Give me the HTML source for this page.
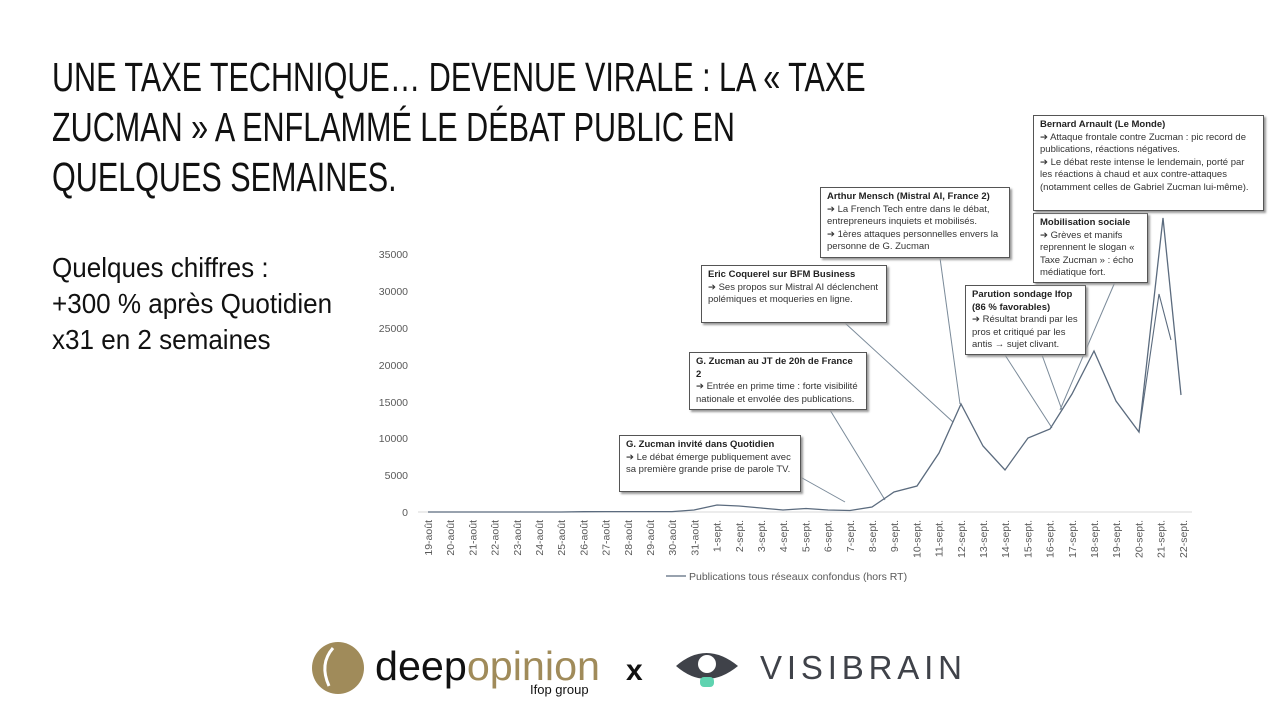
<!DOCTYPE html>
<html><head><meta charset="utf-8"><style>
body{margin:0;width:1280px;height:720px;background:#fff;overflow:hidden;font-family:"Liberation Sans",sans-serif;position:relative}
.t{position:absolute;left:52px;top:52px;font-family:"Liberation Sans",sans-serif;font-size:41px;line-height:50px;color:#111;white-space:nowrap;transform:scaleX(0.745);transform-origin:0 0}
.s{position:absolute;left:52px;top:250px;font-family:"Liberation Sans",sans-serif;font-size:28px;line-height:36px;color:#111;white-space:nowrap;transform:scaleX(0.93);transform-origin:0 0}
.b{position:absolute;background:#fff;border:1.5px solid #555;box-shadow:2px 2px 2px #999;font-size:9.5px;line-height:12.5px;color:#333;padding:3px 6px;box-sizing:border-box}
.b b{color:#222}
</style></head><body>
<div class="t">UNE TAXE TECHNIQUE… DEVENUE VIRALE : LA « TAXE<br>ZUCMAN » A ENFLAMMÉ LE DÉBAT PUBLIC EN<br>QUELQUES SEMAINES.</div>
<div class="s">Quelques chiffres :<br>+300 % après Quotidien<br>x31 en 2 semaines</div>
<svg width="1280" height="720" style="position:absolute;left:0;top:0">
<g font-size="10.5" fill="#595959" text-anchor="end">
<text x="408" y="258">35000</text><text x="408" y="295">30000</text><text x="408" y="332">25000</text><text x="408" y="369">20000</text><text x="408" y="406">15000</text><text x="408" y="442">10000</text><text x="408" y="479">5000</text><text x="408" y="516">0</text>
</g>
<line x1="418" y1="512" x2="1192" y2="512" stroke="#d9d9d9"/>
<g font-size="10.5" fill="#595959" text-anchor="end" id="xl"></g>
<g stroke="#7a8a99" stroke-width="1" fill="none">
<line x1="795" y1="474" x2="845" y2="502"/>
<line x1="830" y1="410" x2="885" y2="500"/>
<line x1="845" y1="323" x2="953" y2="422"/>
<line x1="940" y1="258" x2="960" y2="404"/>
<line x1="1005" y1="355" x2="1052" y2="428"/>
<line x1="1042" y1="355" x2="1062" y2="410"/>
<line x1="1115" y1="282" x2="1060" y2="410"/>
</g>
<polyline fill="none" stroke="#5b6b7e" stroke-width="1.3" points="428,512 450,512 473,512 495,512 517,512 539,512 561,512 584,511.7 606,511.6 628,511.6 650,511.6 672,511.6 694,510 717,505 739,506 761,508 783,510 806,508.5 828,510 850,510.5 872,507 894,492 917,486 939,453 961,404 983,446 1005,470 1028,438 1050,429 1072,394 1094,351 1116,401 1139,432 1163,218 1181,395"/>
<polyline fill="none" stroke="#5b6b7e" stroke-width="1.1" points="1139,432 1159,294 1171,340"/>
<line x1="666" y1="576" x2="686" y2="576" stroke="#5b6b7e" stroke-width="1.3"/>
<text x="689" y="580" font-size="10.5" fill="#595959">Publications tous réseaux confondus (hors RT)</text>
<circle cx="338" cy="668" r="26" fill="#a08b5a"/>
<path d="M333,648 q-14,16 -4,38" stroke="#fff" stroke-width="3" fill="none"/>
<text x="375" y="680" font-size="41" fill="#111" textLength="225" lengthAdjust="spacingAndGlyphs">deep<tspan fill="#a08b5a">opinion</tspan></text>
<text x="530" y="694" font-size="13" fill="#111">Ifop group</text>
<text x="626" y="680" font-size="30" font-weight="bold" fill="#111">x</text>
<path d="M676,666 Q706,640 738,666 Q706,692 676,666Z" fill="#3f4249"/>
<circle cx="707" cy="664" r="9" fill="#fff"/>
<rect x="700" y="677" width="14" height="10" rx="4" fill="#5fd3b0"/>
<text x="760" y="679" font-size="33" fill="#3f4249" textLength="202" lengthAdjust="spacing">VISIBRAIN</text>
</svg>
<script>
var n=["19-août","20-août","21-août","22-août","23-août","24-août","25-août","26-août","27-août","28-août","29-août","30-août","31-août","1-sept.","2-sept.","3-sept.","4-sept.","5-sept.","6-sept.","7-sept.","8-sept.","9-sept.","10-sept.","11-sept.","12-sept.","13-sept.","14-sept.","15-sept.","16-sept.","17-sept.","18-sept.","19-sept.","20-sept.","21-sept.","22-sept."];
var g=document.getElementById('xl'),h='';
n.forEach(function(s,i){var x=428+i*22.2+4;h+='<text transform="translate('+x+',520) rotate(-90)">'+s+'</text>';});
g.innerHTML=h;
</script>
<div class="b" style="left:619px;top:435px;width:182px;height:57px"><b>G. Zucman invité dans Quotidien</b><br>➔ Le débat émerge publiquement avec sa première grande prise de parole TV.</div>
<div class="b" style="left:689px;top:352px;width:178px;height:58px"><b>G. Zucman au JT de 20h de France 2</b><br>➔ Entrée en prime time : forte visibilité nationale et envolée des publications.</div>
<div class="b" style="left:701px;top:265px;width:186px;height:58px"><b>Eric Coquerel sur BFM Business</b><br>➔ Ses propos sur Mistral AI déclenchent polémiques et moqueries en ligne.</div>
<div class="b" style="left:820px;top:187px;width:190px;height:71px"><b>Arthur Mensch (Mistral AI, France 2)</b><br>➔ La French Tech entre dans le débat, entrepreneurs inquiets et mobilisés.<br>➔ 1ères attaques personnelles envers la personne de G. Zucman</div>
<div class="b" style="left:965px;top:285px;width:121px;height:70px"><b>Parution sondage Ifop (86 % favorables)</b><br>➔ Résultat brandi par les pros et critiqué par les antis → sujet clivant.</div>
<div class="b" style="left:1033px;top:213px;width:115px;height:70px"><b>Mobilisation sociale</b><br>➔ Grèves et manifs reprennent le slogan « Taxe Zucman » : écho médiatique fort.</div>
<div class="b" style="left:1033px;top:115px;width:231px;height:96px"><b>Bernard Arnault (Le Monde)</b><br>➔ Attaque frontale contre Zucman : pic record de publications, réactions négatives.<br>➔ Le débat reste intense le lendemain, porté par les réactions à chaud et aux contre-attaques (notamment celles de Gabriel Zucman lui-même).</div>
</body></html>
